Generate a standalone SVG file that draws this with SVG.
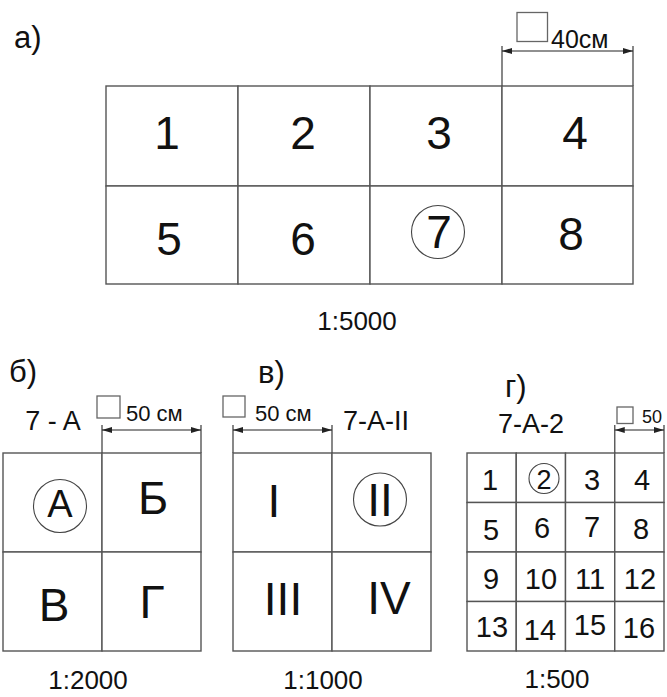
<svg xmlns="http://www.w3.org/2000/svg" width="667" height="697" viewBox="0 0 667 697">
<defs>
<style>
.cell{fill:#fff;stroke:#555;stroke-width:1.4}
.t{font-family:"Liberation Sans",Arial,sans-serif;fill:#111;text-anchor:middle}
.big{font-size:46px}
.mid{font-size:29px}
.lbl{font-size:31px;font-family:"Liberation Sans",Arial,sans-serif;fill:#111}
.code{font-size:27px}
.scale{font-size:26px}
.dim{stroke:#222;stroke-width:1.2;fill:none}
.ext{stroke:#555;stroke-width:1.4;fill:none}
.sq{fill:none;stroke:#666;stroke-width:1.3}
.ring{fill:none;stroke:#444;stroke-width:1.1}
</style>
<marker id="arr" viewBox="0 0 10 6" refX="10" refY="3" markerWidth="10" markerHeight="6" markerUnits="userSpaceOnUse" orient="auto-start-reverse">
<path d="M0,0 L10,3 L0,6 z" fill="#222"/>
</marker>
</defs>
<rect width="667" height="697" fill="#fff"/>

<!-- Panel a -->
<text class="lbl" x="14" y="48">а)</text>
<g id="a-cell-1"><rect class="cell" x="106" y="86" width="132" height="100"/><text class="t big" x="167" y="149">1</text></g>
<g id="a-cell-2"><rect class="cell" x="238" y="86" width="132" height="100"/><text class="t big" x="303" y="149">2</text></g>
<g id="a-cell-3"><rect class="cell" x="370" y="86" width="132" height="100"/><text class="t big" x="439" y="149">3</text></g>
<g id="a-cell-4"><rect class="cell" x="502" y="86" width="131" height="100"/><text class="t big" x="575" y="149">4</text></g>
<g id="a-cell-5"><rect class="cell" x="106" y="186" width="132" height="98"/><text class="t big" x="169" y="255">5</text></g>
<g id="a-cell-6"><rect class="cell" x="238" y="186" width="132" height="98"/><text class="t big" x="303" y="255">6</text></g>
<g id="a-cell-7"><rect class="cell" x="370" y="186" width="132" height="98"/><circle class="ring" cx="438" cy="232" r="26.5"/><text class="t big" x="439" y="248">7</text></g>
<g id="a-cell-8"><rect class="cell" x="502" y="186" width="131" height="98"/><text class="t big" x="571" y="250">8</text></g>
<text class="t scale" x="357" y="330">1:5000</text>

<!-- Panel б -->
<text class="lbl" x="9" y="382">б)</text>
<text class="t code" x="53" y="430">7 - A</text>
<g id="b-cell-A"><rect class="cell" x="3" y="453" width="99" height="99"/><circle class="ring" cx="60" cy="506" r="26.5"/><text class="t" style="font-size:38px" x="60" y="517">A</text></g>
<g id="b-cell-B"><rect class="cell" x="102" y="453" width="99" height="99"/><text class="t big" x="153" y="514">Б</text></g>
<g id="b-cell-V"><rect class="cell" x="3" y="552" width="99" height="99"/><text class="t big" x="54" y="621">В</text></g>
<g id="b-cell-G"><rect class="cell" x="102" y="552" width="99" height="99"/><text class="t big" x="152" y="618">Г</text></g>
<text class="t scale" x="88" y="689">1:2000</text>

<!-- Panel в -->
<text class="lbl" x="258" y="383">в)</text>
<text class="t code" x="376" y="430">7-A-II</text>
<g id="v-cell-I"><rect class="cell" x="233" y="453" width="99" height="99"/><text class="t big" x="274" y="517">I</text></g>
<g id="v-cell-II"><rect class="cell" x="332" y="453" width="99" height="99"/><circle class="ring" cx="380" cy="499.5" r="26.5"/><text class="t big" x="380" y="516">II</text></g>
<g id="v-cell-III"><rect class="cell" x="233" y="552" width="99" height="99"/><text class="t big" x="283" y="615">III</text></g>
<g id="v-cell-IV"><rect class="cell" x="332" y="552" width="99" height="99"/><text class="t big" x="389" y="614">IV</text></g>
<text class="t scale" x="323" y="689">1:1000</text>

<!-- Panel г -->
<text class="lbl" x="505" y="397">г)</text>
<text class="t" style="font-size:27px" x="531" y="433">7-A-2</text>
<g id="g-cell-1"><rect class="cell" x="467" y="453" width="49.25" height="49.5"/><text class="t mid" x="490" y="490">1</text></g>
<g id="g-cell-2"><rect class="cell" x="516.25" y="453" width="49.25" height="49.5"/><circle class="ring" cx="544" cy="478.5" r="15"/><text class="t" style="font-size:27px" x="544" y="489">2</text></g>
<g id="g-cell-3"><rect class="cell" x="565.5" y="453" width="49.25" height="49.5"/><text class="t mid" x="592" y="490">3</text></g>
<g id="g-cell-4"><rect class="cell" x="614.75" y="453" width="49.25" height="49.5"/><text class="t mid" x="642" y="490">4</text></g>
<g id="g-cell-5"><rect class="cell" x="467" y="502.5" width="49.25" height="49.5"/><text class="t mid" x="491" y="540">5</text></g>
<g id="g-cell-6"><rect class="cell" x="516.25" y="502.5" width="49.25" height="49.5"/><text class="t mid" x="542" y="538">6</text></g>
<g id="g-cell-7"><rect class="cell" x="565.5" y="502.5" width="49.25" height="49.5"/><text class="t mid" x="592" y="537">7</text></g>
<g id="g-cell-8"><rect class="cell" x="614.75" y="502.5" width="49.25" height="49.5"/><text class="t mid" x="641" y="539">8</text></g>
<g id="g-cell-9"><rect class="cell" x="467" y="552" width="49.25" height="49.5"/><text class="t mid" x="491" y="589">9</text></g>
<g id="g-cell-10"><rect class="cell" x="516.25" y="552" width="49.25" height="49.5"/><text class="t mid" x="541" y="589">10</text></g>
<g id="g-cell-11"><rect class="cell" x="565.5" y="552" width="49.25" height="49.5"/><text class="t mid" x="590" y="589">11</text></g>
<g id="g-cell-12"><rect class="cell" x="614.75" y="552" width="49.25" height="49.5"/><text class="t mid" x="640" y="589">12</text></g>
<g id="g-cell-13"><rect class="cell" x="467" y="601.5" width="49.25" height="49.5"/><text class="t mid" x="492" y="637">13</text></g>
<g id="g-cell-14"><rect class="cell" x="516.25" y="601.5" width="49.25" height="49.5"/><text class="t mid" x="540" y="640">14</text></g>
<g id="g-cell-15"><rect class="cell" x="565.5" y="601.5" width="49.25" height="49.5"/><text class="t mid" x="590" y="635">15</text></g>
<g id="g-cell-16"><rect class="cell" x="614.75" y="601.5" width="49.25" height="49.5"/><text class="t mid" x="639" y="638">16</text></g>
<text class="t scale" x="557" y="688">1:500</text>

<!-- Dimension marks -->
<g id="dimensions">
<rect class="sq" x="517" y="12.5" width="30.5" height="29"/>
<text class="t" style="font-size:25px;text-anchor:start" x="551" y="48">40см</text>
<line class="ext" x1="502" y1="46" x2="502" y2="86"/>
<line class="ext" x1="633" y1="46" x2="633" y2="86"/>
<line class="dim" x1="502" y1="51" x2="633" y2="51" marker-start="url(#arr)" marker-end="url(#arr)"/>

<rect class="sq" x="97" y="396" width="23" height="22"/>
<text class="t" style="font-size:22px;text-anchor:start" x="126" y="421">50 см</text>
<line class="ext" x1="102" y1="425" x2="102" y2="453"/>
<line class="ext" x1="201" y1="425" x2="201" y2="453"/>
<line class="dim" x1="102" y1="430" x2="201" y2="430" marker-start="url(#arr)" marker-end="url(#arr)"/>

<rect class="sq" x="223" y="396" width="22" height="21"/>
<text class="t" style="font-size:22px;text-anchor:start" x="255" y="421">50 см</text>
<line class="ext" x1="233" y1="425" x2="233" y2="453"/>
<line class="ext" x1="332" y1="425" x2="332" y2="453"/>
<line class="dim" x1="233" y1="430" x2="332" y2="430" marker-start="url(#arr)" marker-end="url(#arr)"/>

<rect class="sq" x="617" y="407" width="16" height="16.5"/>
<text class="t" style="font-size:18px;text-anchor:start" x="642" y="423">50</text>
<line class="ext" x1="614.75" y1="425" x2="614.75" y2="453"/>
<line class="ext" x1="664" y1="425" x2="664" y2="453"/>
<line class="dim" x1="614.75" y1="430" x2="664" y2="430" marker-start="url(#arr)" marker-end="url(#arr)"/>
</g>
</svg>
